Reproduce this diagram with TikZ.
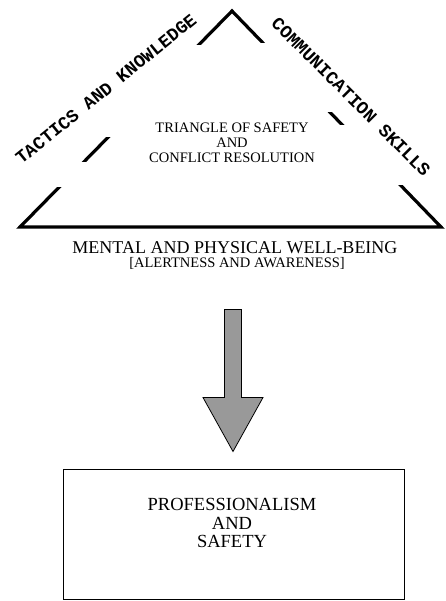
\documentclass[tikz,border=0pt]{standalone}
\usepackage{fontspec}
\setmainfont{Liberation Serif}
\setmonofont{Liberation Mono}
\usepackage{tikz}
\usetikzlibrary{calc}
\definecolor{arrowgray}{RGB}{153, 153, 153}

\tikzset{
  sidelabel/.style={font=\ttfamily\bfseries\fontsize{18}{18}\selectfont, inner sep=0pt},
  gapmask/.style={fill=white, draw=none},
  blockarrow/.style={draw=black, fill=arrowgray, line width=0.8pt, line join=miter},
}

\begin{document}
\begin{tikzpicture}[x=1pt, y=-1pt]
  \useasboundingbox (0,0) rectangle (446,601);

  % Triangle
  \coordinate (apex) at (232,11);
  \coordinate (leftcorner) at (20,227);
  \coordinate (rightcorner) at (441,227);
  \draw[line width=3.2pt, miter limit=10] (apex) -- (rightcorner) -- (leftcorner) -- cycle;

  % Gaps in the sides
  \fill[gapmask] (95,45) rectangle (215,137);
  \fill[gapmask] (45,162) rectangle (100,187);
  \fill[gapmask] (250,43) rectangle (345,112);
  \fill[gapmask] (330,125) rectangle (415,185);

  % Side labels
  \node[sidelabel, rotate=39] (tactics) at (106,89) {TACTICS AND KNOWLEDGE};
  \node[sidelabel, rotate=-45] (commskills) at (351,97) {COMMUNICATION SKILLS};

  % Inside the triangle
  \node[font=\fontsize{14.5}{15}\selectfont, align=center] (triname) at (232,143) {TRIANGLE OF SAFETY\\AND\\CONFLICT RESOLUTION};

  % Base
  \node[font=\fontsize{18}{18}\selectfont] (wellbeing) at (235,248) {MENTAL AND PHYSICAL WELL-BEING};
  \node[font=\fontsize{14.5}{15}\selectfont] (alertness) at (237,263) {[ALERTNESS AND AWARENESS]};

  % Result box
  \node[draw, line width=1pt, minimum width=341pt, minimum height=130pt, inner sep=0pt] (safetybox) at (233.5,534) {};
  \node[font=\fontsize{18.5}{18.5}\selectfont, align=center] (safetytext) at (232,523) {PROFESSIONALISM\\AND\\SAFETY};

  % Arrow
  \coordinate (arrowtop) at ($(alertness.south)+(-4,37)$);
  \coordinate (arrowtip) at ($(safetybox.north)+(-0.5,-17)$);
  \draw[blockarrow] ($(arrowtop)+(-8.5,0)$) -- ($(arrowtop)+(8.5,0)$) -- ($(arrowtip)+(8.5,-54)$)
    -- ($(arrowtip)+(30,-54)$) -- (arrowtip) -- ($(arrowtip)+(-30,-54)$) -- ($(arrowtip)+(-8.5,-54)$) -- cycle;
\end{tikzpicture}
\end{document}
